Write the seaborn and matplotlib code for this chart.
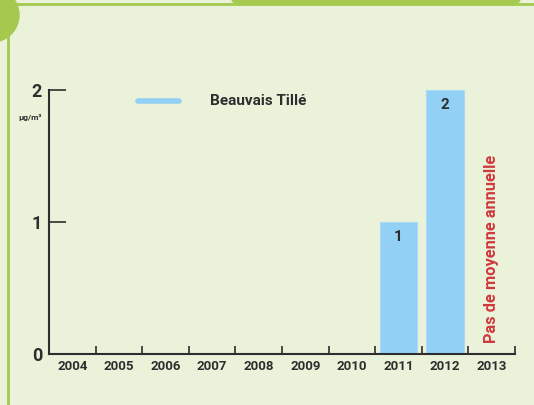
import numpy as np
import pandas as pd
import matplotlib.pyplot as plt
import matplotlib.patches as mpatches
import seaborn as sns

# data
years = ['2004', '2005', '2006', '2007', '2008', '2009', '2010', '2011', '2012', '2013']
values = [0, 0, 0, 0, 0, 0, 0, 1, 2, 0]
y_ticks = [0, 1, 2]
series_name = 'Beauvais Tillé'
no_data_year = '2013'
no_data_text = 'Pas de moyenne annuelle'

bg = '#EAF2DA'
green = '#A4C94E'
bar_color = '#92D0F5'
dark = '#2E2E2E'
red = '#D0393E'

sns.set_style('white')
plt.rcParams['font.family'] = ['Liberation Sans Narrow', 'DejaVu Sans Condensed', 'Roboto', 'DejaVu Sans']
plt.rcParams['font.weight'] = 'bold'

df = pd.DataFrame({'year': years, 'value': values})

fig = plt.figure(figsize=(5.34, 4.05), dpi=100)
fig.patch.set_facecolor(bg)

# decorative frame
fig.add_artist(plt.Line2D([8 / 534, 8 / 534], [0, 1 - 25 / 405], color=green, lw=2, transform=fig.transFigure))
fig.add_artist(plt.Line2D([0, 1], [1 - 4 / 405, 1 - 4 / 405], color=green, lw=2, transform=fig.transFigure))
fig.add_artist(mpatches.Ellipse((-8 / 534, 1 - 15 / 405), 54 / 534, 54 / 405, color=green, transform=fig.transFigure))
fig.add_artist(mpatches.FancyBboxPatch((232 / 534, 1 - 3 / 405), 288 / 534, 10 / 405,
                                       boxstyle='round,pad=0,rounding_size=0.01',
                                       color=green, transform=fig.transFigure))

ax = fig.add_axes([49 / 534, 51 / 405, 466 / 534, 264 / 405])
ax.set_facecolor(bg)

sns.barplot(data=df, x='year', y='value', color=bar_color, width=0.8,
            edgecolor='#A9DAF7', linewidth=0.8, saturation=1, ax=ax)

for i, v in enumerate(values):
    if v > 0:
        ax.text(i, v - 0.11, str(v), ha='center', va='center', fontsize=11,
                color=dark, fontweight='bold')

ax.text(years.index(no_data_year), 0.80, no_data_text, rotation=90, ha='center',
        va='center', fontsize=11.8, color=red, fontweight='bold')

ax.set_xlim(-0.5, len(years) - 0.5)
ax.set_ylim(0, 2)
ax.set_yticks(y_ticks)
ax.set_yticklabels([str(t) for t in y_ticks], fontsize=13, color=dark, fontweight='bold')
ax.set_xticks(range(len(years)))
ax.set_xticklabels(years, fontsize=9.5, color=dark, fontweight='bold')
ax.set_xticks(np.arange(0.5, len(years), 1), minor=True)
ax.tick_params(axis='x', which='major', bottom=True, length=0, pad=4)
ax.tick_params(axis='x', which='minor', bottom=True, direction='in', length=6, width=1.2, color=dark)
ax.tick_params(axis='y', left=True, direction='in', length=12, width=1.2, color=dark, pad=5)
ax.set_xlabel('')
ax.set_ylabel('')

for s in ['top', 'right']:
    ax.spines[s].set_visible(False)
for s in ['left', 'bottom']:
    ax.spines[s].set_color(dark)
    ax.spines[s].set_linewidth(1.5)

ax.text(-0.04, 0.894, 'µg/m³', transform=ax.transAxes, fontsize=6, color=dark,
        ha='center', va='center', fontweight='bold')

# legend drawn like the original
ax.plot([0.19, 0.28], [0.958, 0.958], transform=ax.transAxes, color=bar_color,
        lw=4, solid_capstyle='round', clip_on=False)
ax.text(0.345, 0.958, series_name, transform=ax.transAxes, fontsize=11,
        color=dark, ha='left', va='center', fontweight='bold')

fig.savefig('out.png', dpi=100, facecolor=bg)
